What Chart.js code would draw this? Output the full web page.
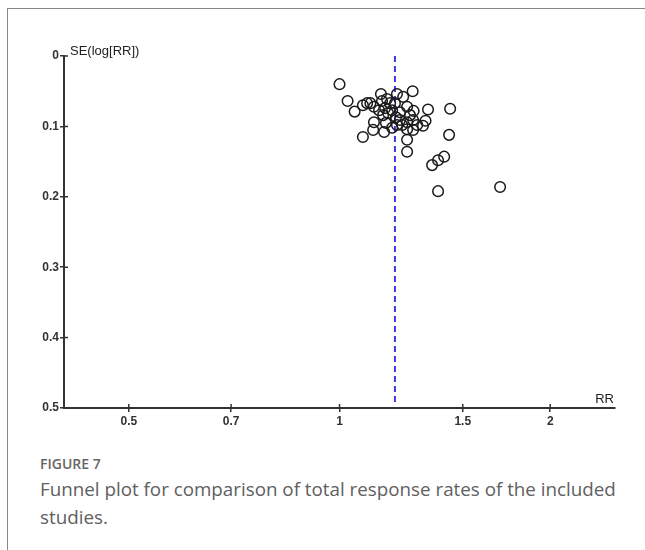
<!DOCTYPE html>
<html>
<head>
<meta charset="utf-8">
<script src="https://cdn.jsdelivr.net/npm/chart.js@4"></script>
<style>
  body { margin: 0; background: #fff; }
  #moldura { position: absolute; left: 7px; top: 8px; width: 645px; height: 560px;
             border-top: 1px solid #888; border-left: 1px solid #888; }
  #grafico { position: absolute; left: 0; top: 0; }
  .legenda { position: absolute; left: 40px; top: 454px; width: 590px; color: #555;
             font-family: "Open Sans", sans-serif; }
  .legenda .num { font-size: 14px; font-weight: 600; color: #666; margin-bottom: 2px; }
  .legenda .txt { font-size: 18.8px; line-height: 28px; font-weight: 400; color: #606060; }
</style>
</head>
<body>
<div id="moldura"></div>
<canvas id="grafico" width="645" height="440"></canvas>
<div class="legenda">
  <div class="num">FIGURE 7</div>
  <div class="txt">Funnel plot for comparison of total response rates of the included studies.</div>
</div>
<script>
// Estudos: risco relativo (RR) e erro padrão de log(RR)
const RR = [1.00, 1.027, 1.051, 1.080, 1.095, 1.107, 1.120, 1.146, 1.150, 1.169,
            1.181, 1.139, 1.162, 1.154, 1.173, 1.189, 1.204, 1.220, 1.208, 1.233,
            1.272, 1.249, 1.276, 1.261, 1.274, 1.249, 1.229, 1.249, 1.274, 1.291,
            1.316, 1.327, 1.338, 1.439, 1.434, 1.249, 1.249, 1.356, 1.383, 1.411,
            1.120, 1.117, 1.080, 1.158, 1.189, 1.220, 1.208, 1.383, 1.696, 1.200,
            1.165];
const SE = [0.040, 0.064, 0.079, 0.070, 0.067, 0.067, 0.072, 0.054, 0.064, 0.061,
            0.067, 0.077, 0.074, 0.084, 0.081, 0.077, 0.087, 0.080, 0.054, 0.058,
            0.050, 0.072, 0.078, 0.084, 0.091, 0.094, 0.098, 0.104, 0.105, 0.098,
            0.099, 0.092, 0.076, 0.075, 0.112, 0.119, 0.136, 0.155, 0.148, 0.143,
            0.094, 0.105, 0.115, 0.108, 0.102, 0.091, 0.098, 0.192, 0.186, 0.067,
            0.095];

// Efeito combinado (linha tracejada)
const RR_COMBINADO = 1.2;

const TICKS_X = [0.5, 0.7, 1, 1.5, 2];
const TICKS_Y = [0, 0.1, 0.2, 0.3, 0.4, 0.5];

const COR_EIXO = '#333';
const FONTE = { family: '"Liberation Sans", Arial, sans-serif', size: 12, weight: 'bold' };

// Título dos eixos e marcas que cruzam o eixo
const extras = {
  id: 'extras',
  afterDraw(chart) {
    const { ctx, chartArea, scales } = chart;
    ctx.save();
    ctx.strokeStyle = COR_EIXO;
    ctx.lineWidth = 1.5;
    ctx.beginPath();
    TICKS_X.forEach((v) => {
      const x = scales.x.getPixelForValue(v);
      ctx.moveTo(x, chartArea.bottom);
      ctx.lineTo(x, chartArea.bottom - 4);
    });
    TICKS_Y.forEach((v) => {
      const y = scales.y.getPixelForValue(v);
      ctx.moveTo(chartArea.left, y);
      ctx.lineTo(chartArea.left + 4, y);
    });
    ctx.stroke();

    ctx.fillStyle = '#222';
    ctx.font = '13px "Liberation Sans", Arial, sans-serif';
    ctx.textBaseline = 'middle';
    ctx.textAlign = 'left';
    ctx.fillText('SE(log[RR])', chartArea.left + 6, chartArea.top - 5);
    ctx.textAlign = 'right';
    ctx.fillText('RR', chartArea.right - 1, chartArea.bottom - 9);
    ctx.restore();
  }
};

const pontos = RR.map((r, i) => ({ x: r, y: SE[i] }));

new Chart(document.getElementById('grafico'), {
  type: 'scatter',
  data: {
    datasets: [
      {
        data: pontos,
        pointStyle: 'circle',
        pointRadius: 5.3,
        pointBorderWidth: 1.5,
        borderColor: '#1a1a1a',
        backgroundColor: 'rgba(0,0,0,0)'
      },
      {
        type: 'line',
        data: [{ x: RR_COMBINADO, y: 0 }, { x: RR_COMBINADO, y: 0.493 }],
        borderColor: '#3a3ae0',
        borderWidth: 2,
        borderDash: [6, 4],
        pointRadius: 0,
        fill: false
      }
    ]
  },
  options: {
    responsive: false,
    animation: false,
    layout: { padding: { top: 56, right: 30, left: 0, bottom: 0 } },
    plugins: { legend: { display: false }, tooltip: { enabled: false } },
    scales: {
      x: {
        type: 'logarithmic',
        min: 0.404,
        max: 2.475,
        afterBuildTicks: (s) => { s.ticks = TICKS_X.map((v) => ({ value: v })); },
        afterFit: (s) => { s.height = 32; },
        grid: { drawOnChartArea: false, drawTicks: true, tickLength: 4, color: COR_EIXO, lineWidth: 1.5 },
        border: { display: true, color: COR_EIXO, width: 2 },
        ticks: { color: COR_EIXO, font: FONTE, padding: 2, maxRotation: 0, autoSkip: false,
                 callback: (v) => String(v) }
      },
      y: {
        type: 'linear',
        reverse: true,
        min: 0,
        max: 0.5,
        afterBuildTicks: (s) => { s.ticks = TICKS_Y.map((v) => ({ value: v })); },
        afterFit: (s) => { s.width = 64; },
        grid: { drawOnChartArea: false, drawTicks: true, tickLength: 4, color: COR_EIXO, lineWidth: 1.5 },
        border: { display: true, color: COR_EIXO, width: 2 },
        ticks: { color: COR_EIXO, font: FONTE, padding: 1,
                 callback: (v) => String(v) }
      }
    }
  },
  plugins: [extras]
});
</script>
</body>
</html>
